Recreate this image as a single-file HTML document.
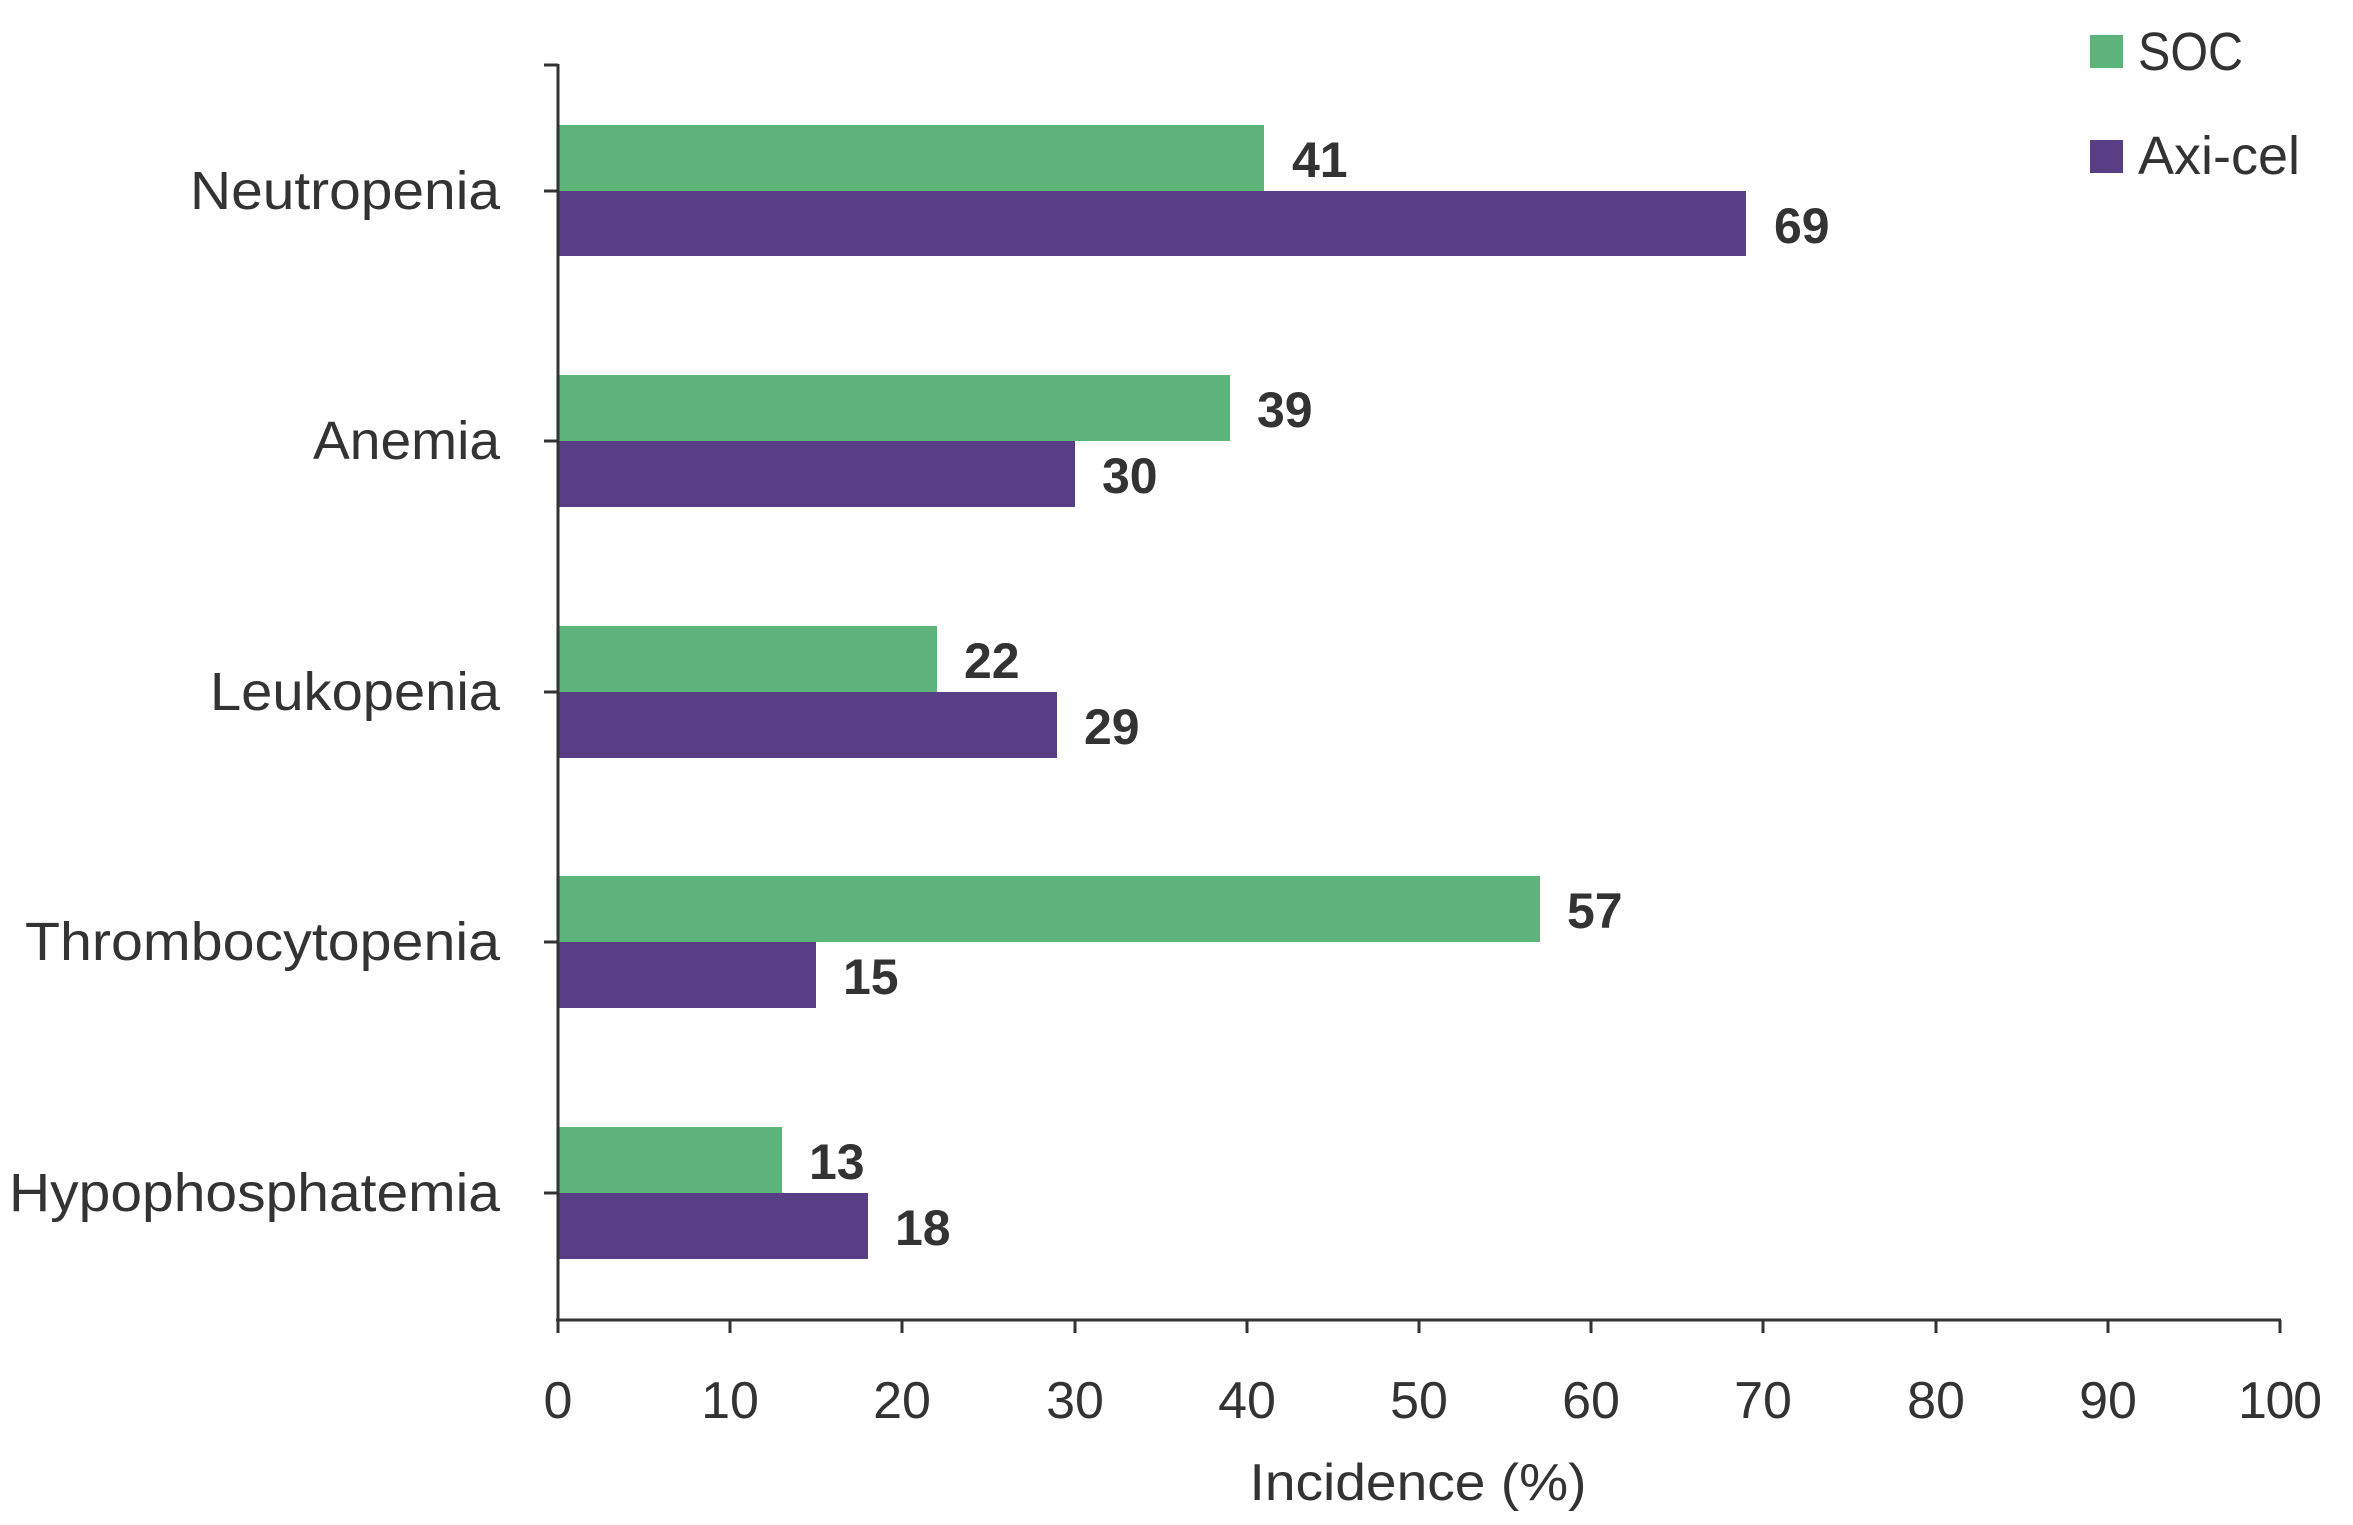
<!DOCTYPE html>
<html><head><meta charset="utf-8"><style>body{margin:0;background:#fff}</style></head><body>
<svg width="2353" height="1520" viewBox="0 0 2353 1520" xmlns="http://www.w3.org/2000/svg" font-family="Liberation Sans, sans-serif" fill="#333">
<g>
<rect x="558" y="125" width="706" height="66" fill="#5db47a"/>
<rect x="558" y="191" width="1188" height="65" fill="#573e85"/>
<rect x="558" y="375" width="672" height="66" fill="#5db47a"/>
<rect x="558" y="441" width="517" height="66" fill="#573e85"/>
<rect x="558" y="626" width="379" height="66" fill="#5db47a"/>
<rect x="558" y="692" width="499" height="66" fill="#573e85"/>
<rect x="558" y="876" width="982" height="66" fill="#5db47a"/>
<rect x="558" y="942" width="258" height="66" fill="#573e85"/>
<rect x="558" y="1127" width="224" height="66" fill="#5db47a"/>
<rect x="558" y="1193" width="310" height="66" fill="#573e85"/>
</g>
<g stroke="#333" stroke-width="3" fill="none">
<line x1="558" y1="64" x2="558" y2="1321"/>
<line x1="556" y1="1320" x2="2281" y2="1320"/>
<line x1="544" y1="65" x2="558" y2="65"/>
<line x1="544" y1="191" x2="558" y2="191"/>
<line x1="544" y1="441" x2="558" y2="441"/>
<line x1="544" y1="692" x2="558" y2="692"/>
<line x1="544" y1="942" x2="558" y2="942"/>
<line x1="544" y1="1193" x2="558" y2="1193"/>
<line x1="558" y1="1320" x2="558" y2="1333"/><line x1="730" y1="1320" x2="730" y2="1333"/><line x1="902" y1="1320" x2="902" y2="1333"/><line x1="1075" y1="1320" x2="1075" y2="1333"/><line x1="1247" y1="1320" x2="1247" y2="1333"/><line x1="1419" y1="1320" x2="1419" y2="1333"/><line x1="1591" y1="1320" x2="1591" y2="1333"/><line x1="1763" y1="1320" x2="1763" y2="1333"/><line x1="1936" y1="1320" x2="1936" y2="1333"/><line x1="2108" y1="1320" x2="2108" y2="1333"/><line x1="2280" y1="1320" x2="2280" y2="1333"/>
</g>
<g font-size="52" text-anchor="middle">
<text x="558" y="1418">0</text><text x="730" y="1418">10</text><text x="902" y="1418">20</text><text x="1075" y="1418">30</text><text x="1247" y="1418">40</text><text x="1419" y="1418">50</text><text x="1591" y="1418">60</text><text x="1763" y="1418">70</text><text x="1936" y="1418">80</text><text x="2108" y="1418">90</text><text x="2280" y="1418" textLength="84">100</text>
<text x="1418" y="1500" textLength="337" lengthAdjust="spacingAndGlyphs">Incidence (%)</text>
</g>
<g font-size="54" text-anchor="end" lengthAdjust="spacingAndGlyphs">
<text x="500" y="209" textLength="310" lengthAdjust="spacingAndGlyphs">Neutropenia</text>
<text x="500" y="459" textLength="187" lengthAdjust="spacingAndGlyphs">Anemia</text>
<text x="500" y="710" textLength="290" lengthAdjust="spacingAndGlyphs">Leukopenia</text>
<text x="500" y="960" textLength="475" lengthAdjust="spacingAndGlyphs">Thrombocytopenia</text>
<text x="500" y="1211" textLength="491" lengthAdjust="spacingAndGlyphs">Hypophosphatemia</text>
</g>
<g font-size="50" font-weight="bold">
<text x="1292" y="177">41</text><text x="1774" y="243">69</text>
<text x="1257" y="427">39</text><text x="1102" y="493">30</text>
<text x="964" y="678">22</text><text x="1084" y="744">29</text>
<text x="1567" y="928">57</text><text x="843" y="994">15</text>
<text x="809" y="1179">13</text><text x="895" y="1245">18</text>
</g>
<rect x="2090" y="35" width="33" height="33" fill="#5db47a"/>
<rect x="2090" y="140" width="33" height="33" fill="#573e85"/>
<g font-size="54"><text x="2138" y="70" textLength="105" lengthAdjust="spacingAndGlyphs">SOC</text><text x="2138" y="174" textLength="162" lengthAdjust="spacingAndGlyphs">Axi-cel</text></g>
</svg>
</body></html>
